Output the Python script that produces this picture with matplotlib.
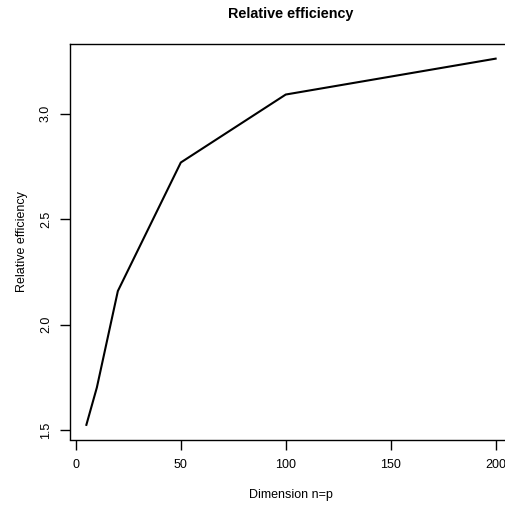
import matplotlib.pyplot as plt

# dimension n=p and relative efficiency
dimension = [5, 10, 20, 50, 100, 200]
rel_eff = [1.525, 1.702, 2.159, 2.768, 3.090, 3.260]

x_ticks = [0, 50, 100, 150, 200]
y_ticks = [1.5, 2.0, 2.5, 3.0]

plt.rcParams['font.family'] = ['Liberation Sans', 'DejaVu Sans']

W, H = 506, 505
fig = plt.figure(figsize=(W / 100, H / 100), dpi=100)
ax = fig.add_axes([70 / W, (H - 439.5) / H, 442 / W, 395.5 / H])

ax.plot(dimension, rel_eff, color='black', linewidth=1.5)

# R style 4% padding
xr = max(dimension) - min(dimension)
yr = max(rel_eff) - min(rel_eff)
ax.set_xlim(min(dimension) - 0.04 * xr, max(dimension) + 0.04 * xr)
ax.set_ylim(min(rel_eff) - 0.04 * yr, max(rel_eff) + 0.04 * yr)

ax.set_xticks(x_ticks)
ax.set_xticklabels([str(t) for t in x_ticks])
ax.set_yticks(y_ticks)
ax.set_yticklabels([f"{t:.1f}" for t in y_ticks], rotation=90, va='center')
ax.tick_params(direction='out', length=7, width=1, labelsize=9, pad=7)
ax.tick_params(axis='y', pad=6)
for s in ax.spines.values():
    s.set_linewidth(1)

fig.text(0.5 * (70 + 512) / W, 1 - 14 / H, "Relative efficiency",
         ha='center', va='center', fontsize=10.4, fontweight='bold')
fig.text(0.5 * (70 + 512) / W, 1 - 495 / H, "Dimension n=p",
         ha='center', va='center', fontsize=9)
fig.text(22 / W, 1 - (44 + 439.5) / 2 / H, "Relative efficiency",
         ha='center', va='center', rotation=90, fontsize=9)

fig.savefig('out.png', dpi=100)
